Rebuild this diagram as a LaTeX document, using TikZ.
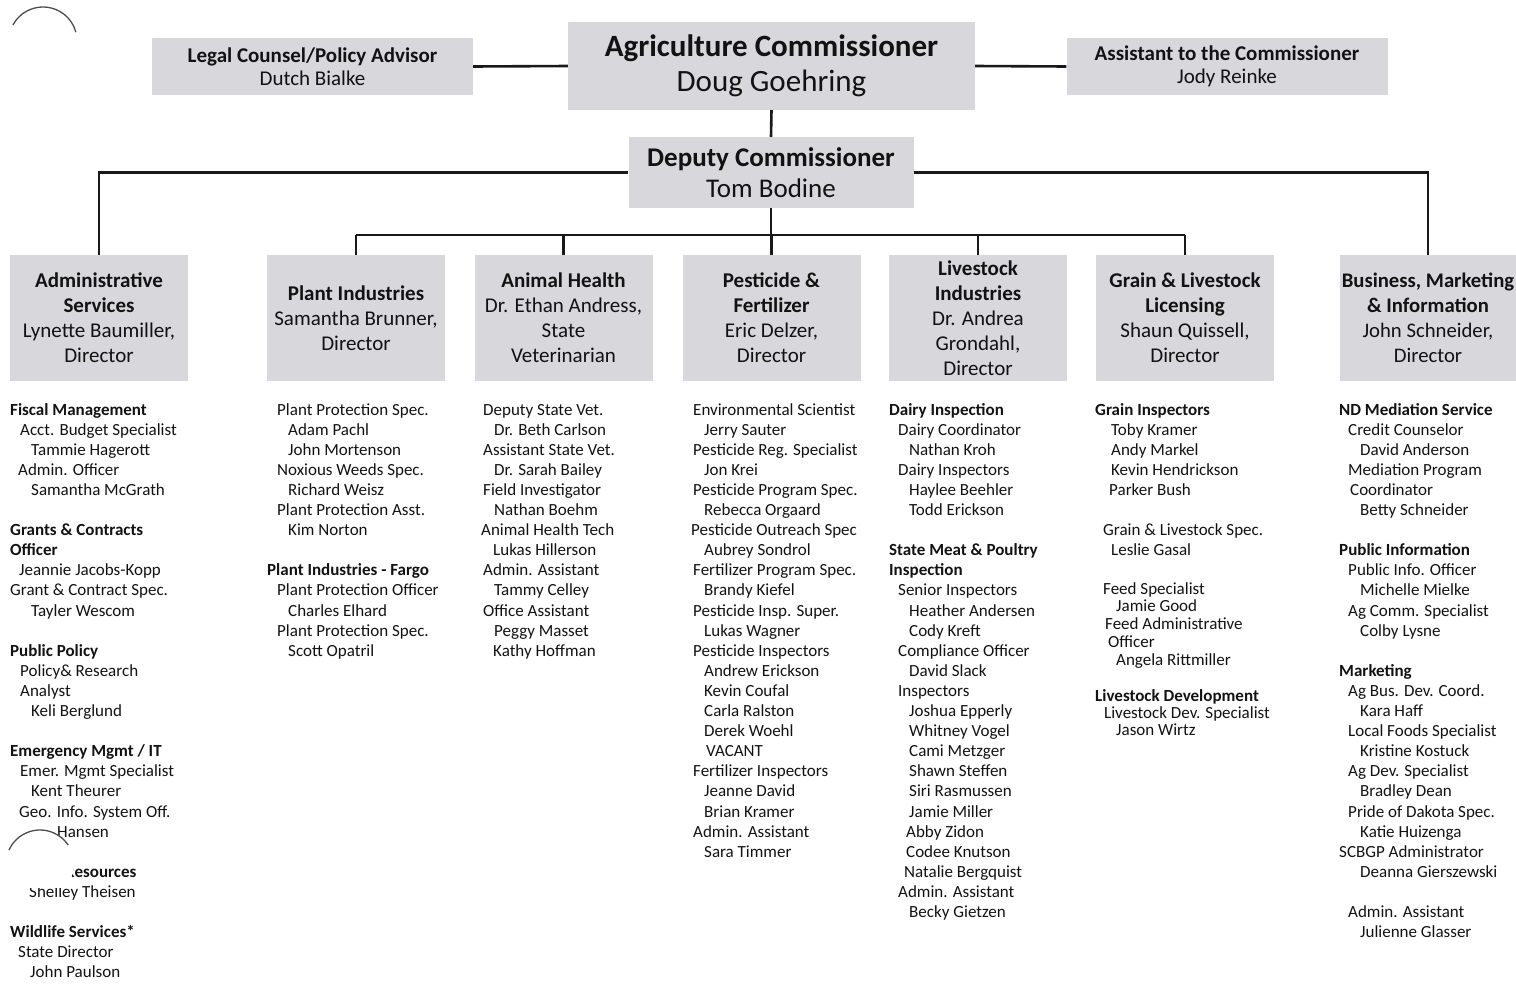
\documentclass[tikz,border=0pt]{standalone}
\usepackage{fontspec}
\setmainfont{Carlito}
\definecolor{boxgray}{RGB}{216,216,220}
\definecolor{ink}{RGB}{18,18,18}
\newcommand\ColLine[2][0]{\hbox{\hspace*{#1pt}#2}}
\newcommand\BlankLine{\hbox{}}
\begin{document}
\begin{tikzpicture}[x=1pt,y=-1pt,
  box/.style={fill=boxgray, inner sep=0, align=center, text=ink},
  topbox/.style={box, minimum width=321, minimum height=57, font=\fontsize{21}{23}\selectfont},
  dept/.style={box, minimum width=178, minimum height=126, font=\fontsize{21}{25}\selectfont},
  conn/.style={line width=2.6pt, black!90},
  col/.style={anchor=base west, inner sep=0, text=ink, font=\fontsize{17}{20.1}\selectfont},
  hole/.style={line width=1.3pt, black!70}
]
\useasboundingbox (0,0) rectangle (1516,983);

% top row
\node[topbox] (legal) at (312.5,66.5) {\textbf{Legal Counsel/Policy Advisor}\\Dutch Bialke};
\node[box, minimum width=407, minimum height=88, font=\fontsize{31}{35}\selectfont] (ag) at (771.5,66) {\textbf{Agriculture Commissioner}\\Doug Goehring};
\node[topbox] (asst) at (1227,66.5) {\textbf{Assistant to the Commissioner}\\Jody Reinke};
\node[box, minimum width=285, minimum height=71, font=\fontsize{27}{31}\selectfont] (dep) at (771,172.5) {\textbf{Deputy Commissioner}\\Tom Bodine};

% departments
\node[dept] (admin) at (99,318) {\textbf{Administrative}\\\textbf{Services}\\Lynette Baumiller,\\Director};
\node[dept] (plant) at (356,318) {\textbf{Plant Industries}\\Samantha Brunner,\\Director};
\node[dept] (animal) at (563.5,318) {\textbf{Animal Health}\\Dr. Ethan Andress,\\State\\Veterinarian};
\node[dept] (pest) at (771.5,318) {\textbf{Pesticide \&}\\\textbf{Fertilizer}\\Eric Delzer,\\Director};
\node[dept] (live) at (978,318) {\textbf{Livestock}\\\textbf{Industries}\\Dr. Andrea\\Grondahl,\\Director};
\node[dept] (grain) at (1185,318) {\textbf{Grain \& Livestock}\\\textbf{Licensing}\\Shaun Quissell,\\Director};
\node[dept, minimum width=176, font=\fontsize{20.7}{25}\selectfont] (bus) at (1428,318) {\textbf{Business, Marketing}\\\textbf{\& Information}\\John Schneider,\\Director};

% connectors
\draw[conn] (legal.east) -- (ag.west);
\draw[conn] (ag.east) -- (asst.west);
\draw[conn] (ag.south) -- (dep.north);
\draw[conn] (dep.west) -| (admin.north);
\draw[conn] (dep.east) -| (bus.north);
\coordinate (bar) at (771,235);
\draw[conn] (dep.south) -- (bar);
\draw[conn] (bar -| plant.north) -- (bar -| grain.north);
\foreach \n in {plant,animal,pest,live,grain}
  \draw[conn] (bar -| \n.north) -- (\n.north);

% staff columns
\node[col] (colAdmin) at (10,415) {\vtop{%
\ColLine{\bfseries Fiscal Management}
\ColLine[10]{Acct. Budget Specialist}
\ColLine[21]{Tammie Hagerott}
\ColLine[8]{Admin. Officer}
\ColLine[21]{Samantha McGrath}
\BlankLine
\ColLine{\bfseries Grants \& Contracts}
\ColLine{\bfseries Officer}
\ColLine[9]{Jeannie Jacobs-Kopp}
\ColLine{Grant \& Contract Spec.}
\ColLine[21]{Tayler Wescom}
\BlankLine
\ColLine{\bfseries Public Policy}
\ColLine[10]{Policy\& Research}
\ColLine[10]{Analyst}
\ColLine[21]{Keli Berglund}
\BlankLine
\ColLine{\bfseries Emergency Mgmt / IT}
\ColLine[10]{Emer. Mgmt Specialist}
\ColLine[21]{Kent Theurer}
\ColLine[9]{Geo. Info. System Off.}
\ColLine[47]{Hansen}
\BlankLine
\ColLine{\bfseries Human Resources}
\ColLine[19]{Shelley Theisen}
\BlankLine
\ColLine{\bfseries Wildlife Services*}
\ColLine[8]{State Director}
\ColLine[20]{John Paulson}}};

\node[col] (colPlant) at (267,415) {\vtop{%
\ColLine[10]{Plant Protection Spec.}
\ColLine[21]{Adam Pachl}
\ColLine[21]{John Mortenson}
\ColLine[10]{Noxious Weeds Spec.}
\ColLine[21]{Richard Weisz}
\ColLine[10]{Plant Protection Asst.}
\ColLine[21]{Kim Norton}
\BlankLine
\ColLine{\bfseries Plant Industries - Fargo}
\ColLine[10]{Plant Protection Officer}
\ColLine[21]{Charles Elhard}
\ColLine[10]{Plant Protection Spec.}
\ColLine[21]{Scott Opatril}}};

\node[col] (colAnimal) at (483,415) {\vtop{%
\ColLine{Deputy State Vet.}
\ColLine[11]{Dr. Beth Carlson}
\ColLine{Assistant State Vet.}
\ColLine[11]{Dr. Sarah Bailey}
\ColLine{Field Investigator}
\ColLine[11]{Nathan Boehm}
\ColLine[-2]{Animal Health Tech}
\ColLine[10]{Lukas Hillerson}
\ColLine{Admin. Assistant}
\ColLine[11]{Tammy Celley}
\ColLine{Office Assistant}
\ColLine[11]{Peggy Masset}
\ColLine[10]{Kathy Hoffman}}};

\node[col] (colPest) at (693,415) {\vtop{%
\ColLine{Environmental Scientist}
\ColLine[11]{Jerry Sauter}
\ColLine{Pesticide Reg. Specialist}
\ColLine[11]{Jon Krei}
\ColLine{Pesticide Program Spec.}
\ColLine[11]{Rebecca Orgaard}
\ColLine[-2]{Pesticide Outreach Spec}
\ColLine[11]{Aubrey Sondrol}
\ColLine{Fertilizer Program Spec.}
\ColLine[11]{Brandy Kiefel}
\ColLine{Pesticide Insp. Super.}
\ColLine[11]{Lukas Wagner}
\ColLine{Pesticide Inspectors}
\ColLine[11]{Andrew Erickson}
\ColLine[11]{Kevin Coufal}
\ColLine[11]{Carla Ralston}
\ColLine[11]{Derek Woehl}
\ColLine[13]{VACANT}
\ColLine{Fertilizer Inspectors}
\ColLine[11]{Jeanne David}
\ColLine[11]{Brian Kramer}
\ColLine{Admin. Assistant}
\ColLine[11]{Sara Timmer}}};

\node[col] (colLive) at (889,415) {\vtop{%
\ColLine{\bfseries Dairy Inspection}
\ColLine[9]{Dairy Coordinator}
\ColLine[20]{Nathan Kroh}
\ColLine[9]{Dairy Inspectors}
\ColLine[20]{Haylee Beehler}
\ColLine[20]{Todd Erickson}
\BlankLine
\ColLine{\bfseries State Meat \& Poultry}
\ColLine{\bfseries Inspection}
\ColLine[9]{Senior Inspectors}
\ColLine[20]{Heather Andersen}
\ColLine[20]{Cody Kreft}
\ColLine[9]{Compliance Officer}
\ColLine[20]{David Slack}
\ColLine[9]{Inspectors}
\ColLine[20]{Joshua Epperly}
\ColLine[20]{Whitney Vogel}
\ColLine[20]{Cami Metzger}
\ColLine[20]{Shawn Steffen}
\ColLine[20]{Siri Rasmussen}
\ColLine[20]{Jamie Miller}
\ColLine[17]{Abby Zidon}
\ColLine[17]{Codee Knutson}
\ColLine[15]{Natalie Bergquist}
\ColLine[9]{Admin. Assistant}
\ColLine[20]{Becky Gietzen}}};

\node[col] (colGrainA) at (1095,415) {\vtop{%
\ColLine{\bfseries Grain Inspectors}
\ColLine[16]{Toby Kramer}
\ColLine[16]{Andy Markel}
\ColLine[16]{Kevin Hendrickson}
\ColLine[14]{Parker Bush}
\BlankLine
\ColLine[8]{Grain \& Livestock Spec.}
\ColLine[16]{Leslie Gasal}}};
\node[col, font=\fontsize{17}{17.75}\selectfont] (colGrainB) at (1095,594) {\vtop{%
\ColLine[8]{Feed Specialist}
\ColLine[21]{Jamie Good}
\ColLine[10]{Feed Administrative}
\ColLine[13]{Officer}
\ColLine[21]{Angela Rittmiller}}};
\node[col, font=\fontsize{17}{17}\selectfont] (colGrainC) at (1095,701) {\vtop{%
\ColLine{\bfseries Livestock Development}
\ColLine[9]{Livestock Dev. Specialist}
\ColLine[21]{Jason Wirtz}}};

\node[col] (colBus) at (1339,415) {\vtop{%
\ColLine{\bfseries ND Mediation Service}
\ColLine[9]{Credit Counselor}
\ColLine[21]{David Anderson}
\ColLine[9]{Mediation Program}
\ColLine[11]{Coordinator}
\ColLine[21]{Betty Schneider}
\BlankLine
\ColLine{\bfseries Public Information}
\ColLine[9]{Public Info. Officer}
\ColLine[21]{Michelle Mielke}
\ColLine[9]{Ag Comm. Specialist}
\ColLine[21]{Colby Lysne}
\BlankLine
\ColLine{\bfseries Marketing}
\ColLine[9]{Ag Bus. Dev. Coord.}
\ColLine[21]{Kara Haff}
\ColLine[9]{Local Foods Specialist}
\ColLine[21]{Kristine Kostuck}
\ColLine[9]{Ag Dev. Specialist}
\ColLine[21]{Bradley Dean}
\ColLine[9]{Pride of Dakota Spec.}
\ColLine[21]{Katie Huizenga}
\ColLine{SCBGP Administrator}
\ColLine[21]{Deanna Gierszewski}
\BlankLine
\ColLine[9]{Admin. Assistant}
\ColLine[21]{Julienne Glasser}}};

% punch-hole marks of the scan
\draw[hole] (43,41) ++(-152:34) arc[start angle=-152, end angle=-15, radius=34];
\begin{scope}
  \clip (0,825) rectangle (100,887);
  \fill[white] (40,864) circle[radius=34];
\end{scope}
\draw[hole] (40,864) ++(-156:34) arc[start angle=-156, end angle=-34, radius=34];
\end{tikzpicture}
\end{document}
